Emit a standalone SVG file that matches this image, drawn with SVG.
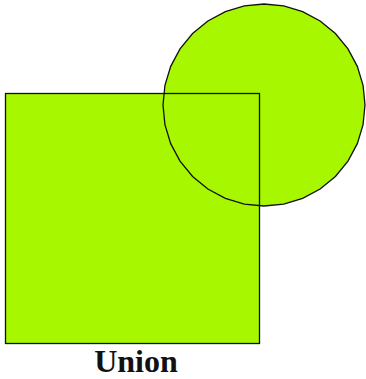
<svg xmlns="http://www.w3.org/2000/svg" width="366" height="379" viewBox="0 0 366 379">
<style>
.f{fill:#a6f700;stroke:none}
.s{fill:none;stroke:#111;stroke-width:1.3}
.t{font-family:"Liberation Serif","DejaVu Serif",serif;font-size:32px;font-weight:bold;fill:#111;text-anchor:middle}
</style>
<defs>
<polygon id="circ" points="365,105 363.06,124.71 357.31,143.65 347.98,161.11 335.42,176.42 320.11,188.98 302.65,198.31 283.71,204.06 264,206 244.29,204.06 225.35,198.31 207.89,188.98 192.58,176.42 180.02,161.11 170.69,143.65 164.94,124.71 163,105 164.94,85.29 170.69,66.35 180.02,48.89 192.58,33.58 207.89,21.02 225.35,11.69 244.29,5.94 264,4 283.71,5.94 302.65,11.69 320.11,21.02 335.42,33.58 347.98,48.89 357.31,66.35 363.06,85.29"/>
<rect id="sq" x="5.5" y="93.5" width="254" height="250"/>
</defs>
<g id="shapes">
<use href="#sq" class="f"/>
<use href="#circ" class="f"/>
<use href="#sq" class="s"/>
<use href="#circ" class="s"/>
</g>
<text class="t" x="136" y="372">Union</text>
</svg>
